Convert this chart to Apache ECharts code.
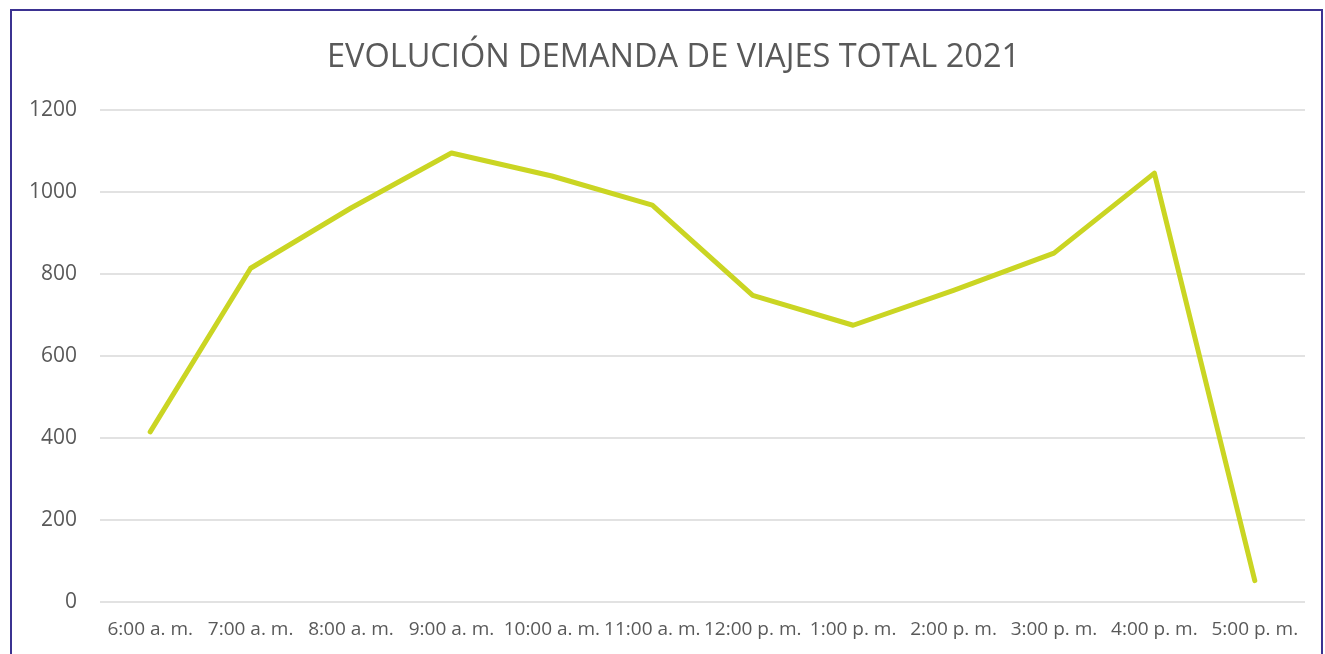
<!DOCTYPE html>
<html>
<head>
<meta charset="utf-8">
<script src="https://cdn.jsdelivr.net/npm/echarts@6/dist/echarts.min.js"></script>
<style>
    html, body { margin: 0; padding: 0; background: #fff; overflow: hidden; }
    #frame {
        position: absolute; left: 10px; top: 9px;
        width: 1313px; height: 700px;
        border: 2px solid #3b3291; box-sizing: border-box;
    }
    #chart { position: absolute; left: 0; top: 0; width: 1325px; height: 654px; }
</style>
</head>
<body>
<div id="frame"></div>
<div id="chart"></div>
<script>
// categorías (horas) y valores
const horas = [
    "6:00 a. m.", "7:00 a. m.", "8:00 a. m.", "9:00 a. m.", "10:00 a. m.", "11:00 a. m.",
    "12:00 p. m.", "1:00 p. m.", "2:00 p. m.", "3:00 p. m.", "4:00 p. m.", "5:00 p. m.",
];
const demanda = [415, 814, 961, 1095, 1039, 968, 748, 675, 760, 851, 1046, 52];

const chart = echarts.init(document.getElementById("chart"));
chart.setOption({
    animation: false,
    title: {
        text: "EVOLUCIÓN DEMANDA DE VIAJES TOTAL 2021",
        left: 322,
        top: 36,
        textStyle: {
            fontFamily: "Open Sans",
            fontWeight: "normal",
            fontSize: 32.5,
            color: "#595959",
        },
    },
    grid: { left: 100, right: 20, top: 110, bottom: 52 },
    xAxis: {
        type: "category",
        data: horas,
        boundaryGap: true,
        axisLine: { show: false },
        axisTick: { show: false },
        axisLabel: {
            interval: 0,
            margin: 18,
            fontFamily: "Open Sans",
            fontSize: 19,
            color: "#595959",
        },
    },
    yAxis: {
        type: "value",
        min: 0,
        max: 1200,
        interval: 200,
        axisLabel: {
            margin: 23,
            fontFamily: "Open Sans",
            fontSize: 21,
            color: "#595959",
            formatter: (v) => String(v),
        },
        splitLine: { lineStyle: { color: "#d9d9d9", width: 1.5 } },
    },
    series: [
        {
            type: "line",
            data: demanda,
            symbol: "none",
            lineStyle: { color: "#cad523", width: 5, cap: "round", join: "round" },
        },
    ],
});
</script>
</body>
</html>
